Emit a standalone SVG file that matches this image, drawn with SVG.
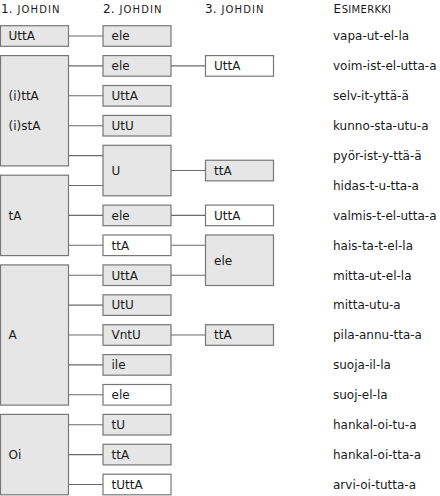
<svg xmlns="http://www.w3.org/2000/svg" width="440" height="496" viewBox="0 0 440 496">
<style>
rect{stroke:#777;stroke-width:1.2}
.g{fill:#e6e6e6}
.w{fill:#fff}
text{font-family:"DejaVu Sans","Verdana",sans-serif;font-size:12px;fill:#1a1a1a}
.sc{font-size:10px;letter-spacing:1.1px}
.sc2{font-size:10px;letter-spacing:0.3px}
#connectors line{stroke:#6a6a6a;stroke-width:1.1}
</style>
<g id="headers">
<text x="1" y="12.7">1.<tspan x="17.5" class="sc">JOHDIN</tspan></text>
<text x="103" y="12.7">2.<tspan x="119.5" class="sc">JOHDIN</tspan></text>
<text x="205" y="12.7">3.<tspan x="221.5" class="sc">JOHDIN</tspan></text>
<text x="333.5" y="12.7">E<tspan class="sc2" dx="0.6">SIMERKKI</tspan></text>
</g>
<g id="connectors">
<line x1="68.5" y1="36.0" x2="103" y2="36.0"/>
<line x1="68.5" y1="65.9" x2="103" y2="65.9"/>
<line x1="68.5" y1="95.8" x2="103" y2="95.8"/>
<line x1="68.5" y1="125.7" x2="103" y2="125.7"/>
<line x1="68.5" y1="155.6" x2="103" y2="155.6"/>
<line x1="68.5" y1="185.5" x2="103" y2="185.5"/>
<line x1="68.5" y1="215.4" x2="103" y2="215.4"/>
<line x1="68.5" y1="245.3" x2="103" y2="245.3"/>
<line x1="68.5" y1="275.2" x2="103" y2="275.2"/>
<line x1="68.5" y1="305.1" x2="103" y2="305.1"/>
<line x1="68.5" y1="335.0" x2="103" y2="335.0"/>
<line x1="68.5" y1="364.9" x2="103" y2="364.9"/>
<line x1="68.5" y1="394.8" x2="103" y2="394.8"/>
<line x1="68.5" y1="424.7" x2="103" y2="424.7"/>
<line x1="68.5" y1="454.6" x2="103" y2="454.6"/>
<line x1="68.5" y1="484.5" x2="103" y2="484.5"/>
<line x1="171" y1="65.9" x2="205.5" y2="65.9"/>
<line x1="171" y1="170.55" x2="205.5" y2="170.55"/>
<line x1="171" y1="215.4" x2="205.5" y2="215.4"/>
<line x1="171" y1="245.3" x2="205.5" y2="245.3"/>
<line x1="171" y1="275.2" x2="205.5" y2="275.2"/>
<line x1="171" y1="335.0" x2="205.5" y2="335.0"/>
</g>
<g id="c1-UttA"><rect class="g" x="0.5" y="25.7" width="68" height="20.6"/><text x="8.5" y="40.3">UttA</text></g>
<g id="c1-ittA"><rect class="g" x="0.5" y="55.6" width="68" height="110.3"/><text x="8.5" y="100.1">(i)ttA</text><text x="8.5" y="130.0">(i)stA</text></g>
<g id="c1-tA"><rect class="g" x="0.5" y="175.2" width="68" height="80.4"/><text x="8.5" y="219.7">tA</text></g>
<g id="c1-A"><rect class="g" x="0.5" y="264.9" width="68" height="140.2"/><text x="8.5" y="339.3">A</text></g>
<g id="c1-Oi"><rect class="g" x="0.5" y="414.4" width="68" height="80.4"/><text x="8.5" y="458.9">Oi</text></g>

<g id="c2-r0"><rect class="g" x="103" y="25.7" width="68" height="20.6"/><text x="111.5" y="40.3">ele</text></g>
<g id="c2-r1"><rect class="g" x="103" y="55.6" width="68" height="20.6"/><text x="111.5" y="70.2">ele</text></g>
<g id="c2-r2"><rect class="g" x="103" y="85.5" width="68" height="20.6"/><text x="111.5" y="100.1">UttA</text></g>
<g id="c2-r3"><rect class="g" x="103" y="115.4" width="68" height="20.6"/><text x="111.5" y="130.0">UtU</text></g>
<g id="c2-r4"><rect class="g" x="103" y="145.3" width="68" height="50.5"/><text x="111.5" y="174.9">U</text></g>
<g id="c2-r6"><rect class="g" x="103" y="205.1" width="68" height="20.6"/><text x="111.5" y="219.7">ele</text></g>
<g id="c2-r7"><rect class="w" x="103" y="235.0" width="68" height="20.6"/><text x="111.5" y="249.6">ttA</text></g>
<g id="c2-r8"><rect class="g" x="103" y="264.9" width="68" height="20.6"/><text x="111.5" y="279.5">UttA</text></g>
<g id="c2-r9"><rect class="g" x="103" y="294.8" width="68" height="20.6"/><text x="111.5" y="309.4">UtU</text></g>
<g id="c2-r10"><rect class="g" x="103" y="324.7" width="68" height="20.6"/><text x="111.5" y="339.3">VntU</text></g>
<g id="c2-r11"><rect class="g" x="103" y="354.6" width="68" height="20.6"/><text x="111.5" y="369.2">ile</text></g>
<g id="c2-r12"><rect class="w" x="103" y="384.5" width="68" height="20.6"/><text x="111.5" y="399.1">ele</text></g>
<g id="c2-r13"><rect class="g" x="103" y="414.4" width="68" height="20.6"/><text x="111.5" y="429.0">tU</text></g>
<g id="c2-r14"><rect class="g" x="103" y="444.3" width="68" height="20.6"/><text x="111.5" y="458.9">ttA</text></g>
<g id="c2-r15"><rect class="w" x="103" y="474.2" width="68" height="20.6"/><text x="111.5" y="488.8">tUttA</text></g>

<g id="c3-r1"><rect class="w" x="205.5" y="55.6" width="68" height="20.6"/><text x="214" y="70.2">UttA</text></g>
<g id="c3-r4"><rect class="g" x="205.5" y="160.25" width="68" height="20.6"/><text x="214" y="174.9">ttA</text></g>
<g id="c3-r6"><rect class="w" x="205.5" y="205.1" width="68" height="20.6"/><text x="214" y="219.7">UttA</text></g>
<g id="c3-r7"><rect class="g" x="205.5" y="235.0" width="68" height="50.5"/><text x="214" y="264.6">ele</text></g>
<g id="c3-r10"><rect class="g" x="205.5" y="324.7" width="68" height="20.6"/><text x="214" y="339.3">ttA</text></g>

<g id="examples">
<text x="333" y="40.3">vapa-ut-el-la</text>
<text x="333" y="70.2">voim-ist-el-utta-a</text>
<text x="333" y="100.1">selv-it-yttä-ä</text>
<text x="333" y="130.0">kunno-sta-utu-a</text>
<text x="333" y="159.9">pyör-ist-y-ttä-ä</text>
<text x="333" y="189.8">hidas-t-u-tta-a</text>
<text x="333" y="219.7">valmis-t-el-utta-a</text>
<text x="333" y="249.6">hais-ta-t-el-la</text>
<text x="333" y="279.5">mitta-ut-el-la</text>
<text x="333" y="309.4">mitta-utu-a</text>
<text x="333" y="339.3">pila-annu-tta-a</text>
<text x="333" y="369.2">suoja-il-la</text>
<text x="333" y="399.1">suoj-el-la</text>
<text x="333" y="429.0">hankal-oi-tu-a</text>
<text x="333" y="458.9">hankal-oi-tta-a</text>
<text x="333" y="488.8">arvi-oi-tutta-a</text>
</g>
</svg>
